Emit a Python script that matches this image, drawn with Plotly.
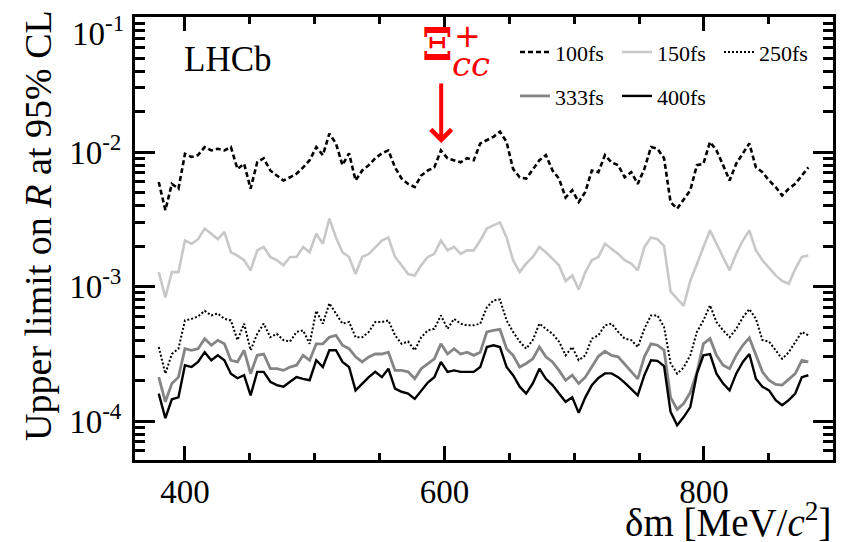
import math
import plotly.graph_objects as go

# delta m [MeV/c^2]
dm = [379.8, 384.9, 389.9, 395.0, 400.0, 405.1, 410.1, 415.2, 420.3, 425.3,
      430.4, 435.4, 440.5, 445.6, 450.6, 455.7, 460.7, 465.8, 470.8, 475.9,
      481.0, 486.0, 491.1, 496.1, 501.2, 506.3, 511.3, 516.4, 521.4, 526.5,
      531.5, 536.6, 541.7, 546.7, 551.8, 556.8, 561.9, 567.0, 572.0, 577.1,
      582.1, 587.2, 592.2, 597.3, 602.4, 607.4, 612.5, 617.5, 622.6, 627.6,
      632.7, 637.8, 642.8, 647.9, 652.9, 658.0, 663.0, 668.1, 673.2, 678.2,
      683.3, 688.3, 693.4, 698.5, 703.5, 708.6, 713.6, 718.7, 723.7, 728.8,
      733.9, 738.9, 744.0, 749.0, 754.1, 759.2, 764.2, 769.3, 774.3, 779.4,
      784.4, 789.5, 794.6, 799.6, 804.7, 809.7, 814.8, 819.8, 824.9, 830.0,
      835.0, 840.1, 845.1, 850.2, 855.3, 860.3, 865.4, 870.4, 875.5, 880.5]

ul_100fs = [6.0e-3, 3.7e-3, 5.8e-3, 5.35e-3, 9.7e-3, 9.2e-3, 9.5e-3, 1.09e-2, 1.03e-2, 1.06e-2,
            1.03e-2, 1.09e-2, 7.5e-3, 8.2e-3, 5.35e-3, 8.4e-3, 9.0e-3, 7.3e-3, 6.7e-3, 6.15e-3,
            6.5e-3, 6.9e-3, 7.7e-3, 8.7e-3, 1.09e-2, 9.5e-3, 1.37e-2, 1.16e-2, 8.0e-3, 9.8e-3,
            6.15e-3, 7.3e-3, 8.0e-3, 9.0e-3, 9.8e-3, 1.03e-2, 7.7e-3, 6.35e-3, 5.8e-3, 5.5e-3,
            6.7e-3, 7.3e-3, 7.7e-3, 1.03e-2, 9.0e-3, 8.7e-3, 8.4e-3, 9.0e-3, 8.7e-3, 1.16e-2,
            1.23e-2, 1.3e-2, 1.42e-2, 1.19e-2, 7.5e-3, 6.5e-3, 6.35e-3, 7.5e-3, 8.7e-3, 9.5e-3,
            7.3e-3, 6.35e-3, 4.6e-3, 5.2e-3, 4.25e-3, 5.05e-3, 7.3e-3, 7.1e-3, 9.5e-3, 8.4e-3,
            8.0e-3, 6.5e-3, 7.1e-3, 5.8e-3, 7.5e-3, 1.09e-2, 1.06e-2, 9.0e-3, 4.25e-3, 3.8e-3,
            4.4e-3, 5.2e-3, 8.0e-3, 8.2e-3, 1.19e-2, 1.03e-2, 8.0e-3, 6.15e-3, 8.2e-3, 9.8e-3,
            1.16e-2, 7.7e-3, 7.1e-3, 6.15e-3, 5.5e-3, 4.75e-3, 5.35e-3, 5.8e-3, 6.7e-3, 7.7e-3]

ul_150fs = [1.28e-3, 8.3e-4, 1.28e-3, 1.28e-3, 2.2e-3, 2.08e-3, 2.25e-3, 2.7e-3, 2.47e-3, 2.25e-3,
            2.55e-3, 1.8e-3, 1.7e-3, 1.57e-3, 1.32e-3, 1.86e-3, 1.97e-3, 1.66e-3, 1.57e-3, 1.44e-3,
            1.66e-3, 1.66e-3, 1.97e-3, 1.8e-3, 2.47e-3, 2.08e-3, 3.2e-3, 2.32e-3, 1.8e-3, 1.66e-3,
            1.24e-3, 1.66e-3, 1.75e-3, 1.97e-3, 2.2e-3, 2.32e-3, 1.66e-3, 1.44e-3, 1.24e-3, 1.21e-3,
            1.44e-3, 1.66e-3, 1.75e-3, 2.2e-3, 1.86e-3, 1.97e-3, 1.75e-3, 1.86e-3, 1.86e-3, 2.2e-3,
            2.7e-3, 2.85e-3, 3.0e-3, 2.32e-3, 1.57e-3, 1.28e-3, 1.48e-3, 1.66e-3, 1.97e-3, 1.8e-3,
            1.6e-3, 1.44e-3, 1.1e-3, 1.21e-3, 9.5e-4, 1.28e-3, 1.57e-3, 1.66e-3, 2.08e-3, 1.9e-3,
            1.75e-3, 1.57e-3, 1.48e-3, 1.32e-3, 1.97e-3, 2.32e-3, 2.25e-3, 2.0e-3, 9.2e-4, 8.1e-4,
            7.2e-4, 1.1e-3, 1.48e-3, 1.97e-3, 2.62e-3, 2.08e-3, 1.66e-3, 1.32e-3, 1.75e-3, 2.2e-3,
            2.62e-3, 1.86e-3, 1.57e-3, 1.39e-3, 1.21e-3, 1.1e-3, 1.05e-3, 1.35e-3, 1.66e-3, 1.7e-3]

ul_250fs = [3.55e-4, 2.25e-4, 3.15e-4, 3.45e-4, 5.6e-4, 5.75e-4, 6.0e-4, 6.6e-4, 6.1e-4, 6.3e-4,
            5.75e-4, 5.6e-4, 4.0e-4, 5.3e-4, 3.36e-4, 4.45e-4, 5.3e-4, 4.2e-4, 4.45e-4, 4.0e-4,
            3.9e-4, 4.6e-4, 4.72e-4, 3.75e-4, 6.6e-4, 5.3e-4, 7.5e-4, 6.3e-4, 5.3e-4, 5.45e-4,
            4.2e-4, 4.2e-4, 4.6e-4, 5.45e-4, 5.45e-4, 5.6e-4, 4.34e-4, 3.75e-4, 3.9e-4, 3.36e-4,
            4.2e-4, 4.72e-4, 4.85e-4, 6.1e-4, 4.85e-4, 5.75e-4, 5.3e-4, 5.15e-4, 5.15e-4, 5.3e-4,
            7.0e-4, 7.9e-4, 8.0e-4, 5.6e-4, 4.6e-4, 3.9e-4, 3.45e-4, 4.0e-4, 5.3e-4, 4.85e-4,
            4.45e-4, 3.9e-4, 3.08e-4, 3.55e-4, 2.83e-4, 3.08e-4, 4.1e-4, 4.34e-4, 5.15e-4, 5.3e-4,
            4.6e-4, 4.1e-4, 4.0e-4, 3.55e-4, 4.85e-4, 6.1e-4, 6.1e-4, 5.0e-4, 2.7e-4, 2.25e-4,
            2.5e-4, 3.08e-4, 4.6e-4, 5.6e-4, 7.25e-4, 5.45e-4, 4.72e-4, 4.2e-4, 4.85e-4, 5.9e-4,
            6.8e-4, 5.75e-4, 4.0e-4, 3.9e-4, 3.36e-4, 2.9e-4, 3.25e-4, 3.9e-4, 4.6e-4, 4.34e-4]

ul_333fs = [2.12e-4, 1.39e-4, 1.9e-4, 2.12e-4, 3.45e-4, 3.36e-4, 3.45e-4, 4.1e-4, 3.66e-4, 3.98e-4,
            3.75e-4, 2.83e-4, 2.75e-4, 3.36e-4, 2.25e-4, 3.08e-4, 3.15e-4, 2.45e-4, 2.45e-4, 2.38e-4,
            2.52e-4, 2.6e-4, 3.08e-4, 2.83e-4, 3.75e-4, 3.75e-4, 4.2e-4, 4.34e-4, 3.66e-4, 3.45e-4,
            3.0e-4, 2.75e-4, 3.0e-4, 3.15e-4, 3.15e-4, 3.25e-4, 2.38e-4, 2.38e-4, 2.32e-4, 2.06e-4,
            2.45e-4, 2.68e-4, 2.9e-4, 3.75e-4, 3.15e-4, 3.45e-4, 3.15e-4, 3.25e-4, 3.08e-4, 3.25e-4,
            4.6e-4, 4.72e-4, 4.8e-4, 3.45e-4, 3.08e-4, 2.52e-4, 2.68e-4, 2.9e-4, 3.55e-4, 3.0e-4,
            2.75e-4, 2.38e-4, 2.01e-4, 2.19e-4, 1.9e-4, 2.12e-4, 2.52e-4, 3.03e-4, 3.3e-4, 3.08e-4,
            3.0e-4, 2.65e-4, 2.32e-4, 2.06e-4, 3.0e-4, 3.75e-4, 3.66e-4, 3.36e-4, 1.5e-4, 1.22e-4,
            1.35e-4, 1.63e-4, 2.3e-4, 3.75e-4, 4.1e-4, 3.08e-4, 2.6e-4, 2.45e-4, 3.08e-4, 3.66e-4,
            4.15e-4, 3.08e-4, 2.32e-4, 2.01e-4, 1.87e-4, 1.85e-4, 2.04e-4, 2.25e-4, 2.83e-4, 2.75e-4]

ul_400fs = [1.6e-4, 1.05e-4, 1.45e-4, 1.5e-4, 2.6e-4, 2.52e-4, 2.75e-4, 3.25e-4, 2.83e-4, 3.08e-4,
            2.83e-4, 2.25e-4, 2.08e-4, 2.19e-4, 1.55e-4, 2.32e-4, 2.32e-4, 1.96e-4, 1.85e-4, 1.8e-4,
            1.96e-4, 2.12e-4, 2.06e-4, 2.01e-4, 2.83e-4, 2.52e-4, 3.36e-4, 3.36e-4, 2.75e-4, 2.52e-4,
            1.69e-4, 1.9e-4, 2.12e-4, 2.32e-4, 2.12e-4, 2.45e-4, 1.74e-4, 1.65e-4, 1.6e-4, 1.46e-4,
            1.69e-4, 1.93e-4, 2.12e-4, 2.75e-4, 2.32e-4, 2.38e-4, 2.32e-4, 2.32e-4, 2.32e-4, 2.52e-4,
            3.55e-4, 3.66e-4, 3.55e-4, 2.52e-4, 2.19e-4, 1.8e-4, 1.6e-4, 1.9e-4, 2.45e-4, 2.06e-4,
            1.85e-4, 1.6e-4, 1.39e-4, 1.5e-4, 1.15e-4, 1.5e-4, 1.85e-4, 2.09e-4, 2.26e-4, 2.26e-4,
            2.12e-4, 1.93e-4, 1.74e-4, 1.55e-4, 2.19e-4, 2.83e-4, 2.8e-4, 2.56e-4, 1.17e-4, 9.3e-5,
            1.07e-4, 1.27e-4, 2.25e-4, 3.08e-4, 3.15e-4, 2.25e-4, 1.9e-4, 1.69e-4, 2.25e-4, 2.75e-4,
            3.15e-4, 2.06e-4, 1.8e-4, 1.69e-4, 1.43e-4, 1.31e-4, 1.43e-4, 1.6e-4, 2.12e-4, 2.19e-4]

series_names = ["100fs", "150fs", "250fs", "333fs", "400fs"]
x_tickvals = [400, 600, 800]
y_tickvals = [1e-4, 1e-3, 1e-2, 1e-1]
y_ticktext = ["10<sup>-4</sup>", "10<sup>-3</sup>", "10<sup>-2</sup>", ""]
top_label = "10<sup>-1</sup>"   # drawn separately, sits just below the top frame
xi_mass = 597.5      # position of the arrow
xi_limit = 1.17e-2   # arrow anchor level

SERIF = "Liberation Serif"

styles = [
    dict(color="black", width=2.6, dash="5px,3px"),
    dict(color="#c8c8c8", width=2.6, dash="solid"),
    dict(color="black", width=2.0, dash="2px,2px"),
    dict(color="#858585", width=2.8, dash="solid"),
    dict(color="black", width=2.4, dash="solid"),
]
data = [ul_100fs, ul_150fs, ul_250fs, ul_333fs, ul_400fs]
legends = ["legend", "legend", "legend", "legend2", "legend2"]

fig = go.Figure()
for name, y, st, lg in zip(series_names, data, styles, legends):
    fig.add_trace(go.Scatter(x=dm, y=y, mode="lines", name=name, line=st,
                             legend=lg, showlegend=True))

minor_y = [m * 10.0 ** e for e in (-5, -4, -3, -2) for m in range(2, 10) if 5e-5 < m * 10.0 ** e < 0.1]

fig.update_layout(
    width=844, height=542,
    margin=dict(l=135, r=11, t=17, b=82, autoexpand=False),
    plot_bgcolor="white", paper_bgcolor="white",
    font=dict(family=SERIF, color="black"),
    legend=dict(orientation="h", x=0.5444, y=0.9207, xanchor="left", yanchor="middle",
                bgcolor="rgba(0,0,0,0)", font=dict(family=SERIF, size=22),
                entrywidth=57, traceorder="normal"),
    legend2=dict(orientation="h", x=0.5444, y=0.8214, xanchor="left", yanchor="middle",
                 bgcolor="rgba(0,0,0,0)", font=dict(family=SERIF, size=22),
                 entrywidth=57, traceorder="normal"),
)

fig.update_xaxes(
    range=[361.5, 899.5], showgrid=False, zeroline=False, automargin=False,
    showline=True, linewidth=3, linecolor="black", mirror="allticks",
    ticks="inside", ticklen=14, tickwidth=2.5, tickcolor="black",
    tickvals=x_tickvals, ticktext=[str(v) for v in x_tickvals],
    tickfont=dict(family=SERIF, size=33), ticklabelstandoff=0,
    minor=dict(dtick=50, tick0=0, ticks="inside", ticklen=7, tickwidth=2.5, tickcolor="black", showgrid=False),
)
fig.update_yaxes(
    type="log", range=[-4.29, -0.995], showgrid=False, zeroline=False, automargin=False,
    showline=True, linewidth=3, linecolor="black", mirror="allticks",
    ticks="inside", ticklen=20, tickwidth=2.5, tickcolor="black",
    tickvals=y_tickvals, ticktext=y_ticktext,
    tickfont=dict(family=SERIF, size=33), ticklabelstandoff=4,
    minor=dict(tickvals=minor_y, ticks="inside", ticklen=10, tickwidth=2.5, tickcolor="black", showgrid=False),
)

RED = "#ff0000"
fig.add_annotation(x=0.0, y=1.0, xref="paper", yref="paper", text=top_label,
                   showarrow=False, font=dict(family=SERIF, size=33),
                   xanchor="right", yanchor="top", xshift=-9, yshift=9)
fig.add_annotation(x=0.1333, y=0.905, xref="paper", yref="paper", text="LHCb",
                   showarrow=False, font=dict(family=SERIF, size=35), xanchor="center", yanchor="middle")
fig.add_annotation(x=-0.14, y=1.02, xref="paper", yref="paper",
                   text="Upper limit on <i>R</i> at 95% CL", textangle=-90,
                   showarrow=False, font=dict(family=SERIF, size=38), xanchor="center", yanchor="top")
fig.add_annotation(x=1.0, y=-0.1355, xref="paper", yref="paper",
                   text="δm [MeV/<i>c</i><sup>2</sup>]",
                   showarrow=False, font=dict(family=SERIF, size=39), xanchor="right", yanchor="middle")
# Xi_cc^+ label
fig.add_annotation(x=0.434, y=0.937, xref="paper", yref="paper", text="<b>Ξ</b>",
                   showarrow=False, font=dict(family="DejaVu Serif", size=44, color=RED),
                   xanchor="center", yanchor="middle")
fig.add_annotation(x=0.4766, y=0.957, xref="paper", yref="paper", text="+",
                   showarrow=False, font=dict(family="DejaVu Sans", size=32, color=RED),
                   xanchor="center", yanchor="middle")
fig.add_annotation(x=0.481, y=0.894, xref="paper", yref="paper", text="<i>cc</i>",
                   showarrow=False, font=dict(family="DejaVu Serif", size=34, color=RED),
                   xanchor="center", yanchor="middle")
fig.add_annotation(x=xi_mass, y=math.log10(xi_limit), xref="x", yref="y", text=" ",
                   font=dict(size=2),
                   showarrow=True, arrowhead=4, arrowwidth=4, arrowsize=1, arrowcolor=RED,
                   ax=0, ay=-62, standoff=0)

fig.write_html("out.html", config={"displayModeBar": False},
               post_script="document.body.style.margin='0px';")
